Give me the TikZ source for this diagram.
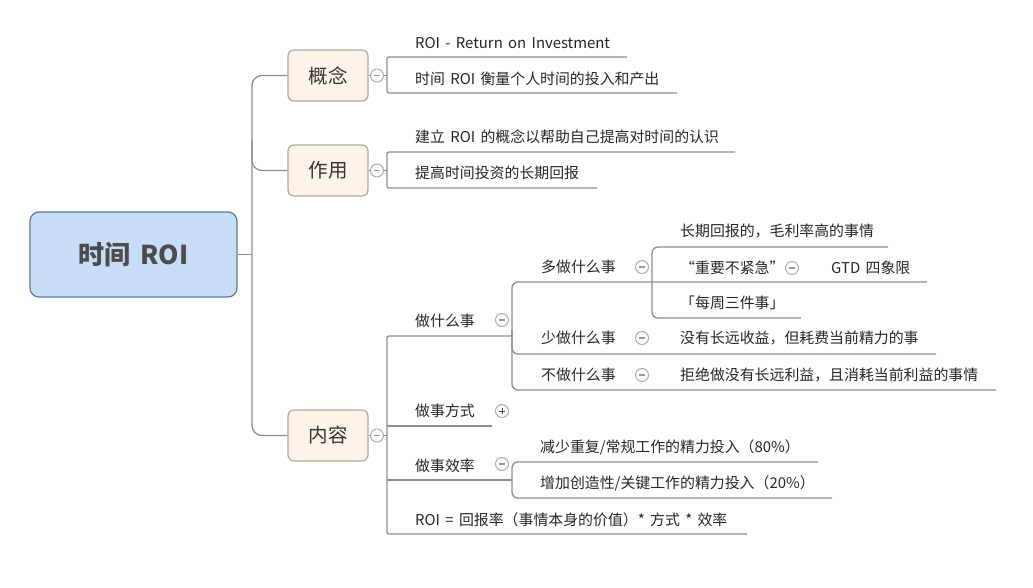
\documentclass[tikz,border=0pt]{standalone}
\usepackage{fontspec}
\setmainfont[WordSpace=1.6]{Noto Sans CJK SC}
\usetikzlibrary{calc}
\definecolor{rootfill}{HTML}{C8DDF8}
\definecolor{rootline}{HTML}{5B7BA6}
\definecolor{boxfill}{HTML}{FDF3E8}
\definecolor{boxline}{HTML}{B4A89C}
\definecolor{linkgray}{HTML}{8E8E8E}
\definecolor{foldblue}{HTML}{8A9CC8}
\tikzset{
	root/.style={draw=rootline,fill=rootfill,line width=1.2pt,rounded corners=9pt,minimum width=207pt,minimum height=85pt,font=\fontsize{26}{30}\selectfont\bfseries,text=black!70},
	branch/.style={draw=boxline,fill=boxfill,line width=1.2pt,rounded corners=6pt,minimum width=80pt,minimum height=51pt,font=\fontsize{19.5}{23}\selectfont,text=black!80},
	leaf/.style={anchor=west,inner sep=0pt,font=\fontsize{14.9}{17}\selectfont,text=black!85},
	link/.style={draw=linkgray,line width=1.3pt},
	fold/.style={circle,draw=gray!65,fill=white,line width=1pt,minimum size=13pt,inner sep=0pt,
		path picture={\draw[foldblue,line width=1.3pt] ($(path picture bounding box.center)+(-3.2,0)$) -- ($(path picture bounding box.center)+(3.2,0)$);}},
	unfold/.style={fold,path picture={\draw[black!70,line width=1pt] ($(path picture bounding box.center)+(-3.2,0)$) -- ($(path picture bounding box.center)+(3.2,0)$) ($(path picture bounding box.center)+(0,-3.2)$) -- ($(path picture bounding box.center)+(0,3.2)$);}}
}
\begin{document}
\begin{tikzpicture}[x=1pt,y=-1pt]
	\useasboundingbox (0,0) rectangle (1033,588);
	%ROOT AND BRANCHES
	\node[root] (root) at (133.5,254.5) {时间 ROI};
	\node[branch] (gn) at (328,75.5) {概念};
	\node[branch] (zy) at (328,170.5) {作用};
	\node[branch] (nr) at (328,435.5) {内容};
	\coordinate (tk) at (252,254.5);
	\draw[link] (root.east) -- (tk);
	\draw[link,rounded corners=10pt] (gn.west) -| (252,300) |- (nr.west);
	\draw[link,rounded corners=10pt] (252,140) |- (zy.west);
	%BRACKETS
	\coordinate (gnb) at (387,75.5);
	\coordinate (zyb) at (387,170.5);
	\coordinate (nrb) at (387,435.5);
	\draw[link] (gn.east) -- (gnb);
	\draw[link] (zy.east) -- (zyb);
	\draw[link] (nr.east) -- (nrb);
	\draw[link,rounded corners=2pt] (627,57) -- (387,57) -- (387,93) -- (677,93);
	\draw[link,rounded corners=2pt] (735,152) -- (387,152) -- (387,188) -- (597,188);
	\draw[link,rounded corners=2pt] (512,336) -- (387,336) -- (387,534) -- (747,534);
	\draw[link] (387,426) -- (492,426);
	\draw[link] (387,480) -- (512,480);
	\draw[link,rounded corners=6pt] (927,282) -- (512,282) -- (512,390) -- (996,390);
	\draw[link,rounded corners=6pt] (512,330) |- (936,354);
	\draw[link,rounded corners=6pt] (888,247) -- (652,247) -- (652,318) -- (801,318);
	\draw[link,rounded corners=6pt] (818,462) -- (512,462) -- (512,498) -- (832,498);
	%FOLDS
	\node[fold] (fgn) at (377,75.5) {};
	\node[fold] (fzy) at (377,170.5) {};
	\node[fold] (fnr) at (377,435.5) {};
	\node[fold] (fzs) at (502,320) {};
	\node[unfold] (ffs) at (502,411) {};
	\node[fold] (fxl) at (502,464) {};
	\node[fold] (fdz) at (642,267) {};
	\node[fold] (fsz) at (642,338) {};
	\node[fold] (fbz) at (642,375) {};
	\node[fold] (fzy2) at (792,268) {};
	%LEAVES
	\node[leaf] (gn1) at (415,43) {ROI - Return on Investment};
	\node[leaf] (gn2) at (415,79) {时间 ROI 衡量个人时间的投入和产出};
	\node[leaf] (zy1) at (415,137) {建立 ROI 的概念以帮助自己提高对时间的认识};
	\node[leaf] (zy2) at (415,173) {提高时间投资的长期回报};
	\node[leaf] (zs) at (415,321) {做什么事};
	\node[leaf] (fs) at (415,411) {做事方式};
	\node[leaf] (xl) at (415,466) {做事效率};
	\node[leaf] (gs) at (415,520) {ROI = 回报率（事情本身的价值）* 方式 * 效率};
	\node[leaf] (dz) at (541,267) {多做什么事};
	\node[leaf] (sz) at (541,338) {少做什么事};
	\node[leaf] (bz) at (541,375) {不做什么事};
	\node[leaf] (dz1) at (680,231) {长期回报的，毛利率高的事情};
	\node[leaf] (dz2) at (680,268) {“重要不紧急”};
	\node[leaf] (dz3) at (680,303) {「每周三件事」};
	\node[leaf] (gtd) at (831,268) {GTD 四象限};
	\node[leaf] (sz1) at (680,338) {没有长远收益，但耗费当前精力的事};
	\node[leaf] (bz1) at (680,375) {拒绝做没有长远利益，且消耗当前利益的事情};
	\node[leaf] (xl1) at (540,447) {减少重复/常规工作的精力投入（80\%）};
	\node[leaf] (xl2) at (540,483) {增加创造性/关键工作的精力投入（20\%）};
\end{tikzpicture}
\end{document}
